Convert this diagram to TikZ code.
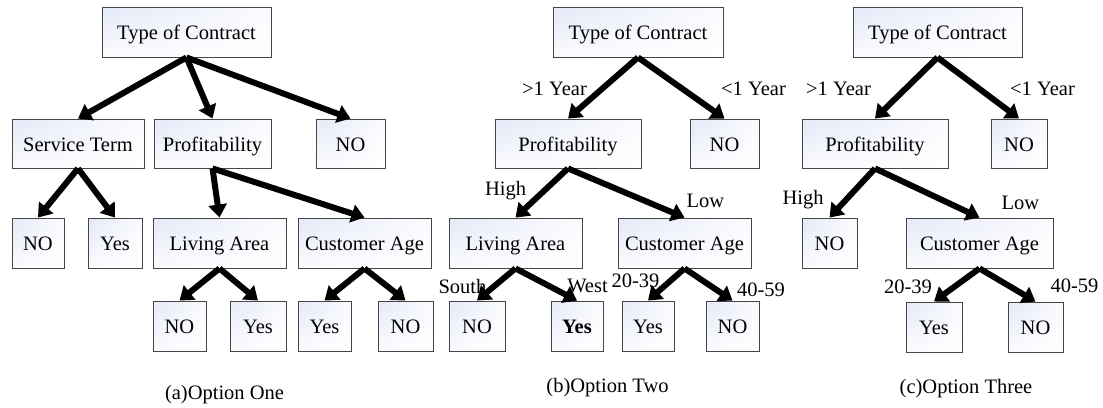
\documentclass[tikz,border=0pt]{standalone}
\usepackage{fontspec}
\setmainfont{Liberation Serif}
\usetikzlibrary{arrows.meta,shadings}
\definecolor{bxul}{RGB}{228,233,247}
\definecolor{bxm}{RGB}{250,251,254}
\definecolor{bxline}{RGB}{70,70,70}
\begin{document}
\begin{tikzpicture}[x=1pt,y=-1pt,
  font=\fontsize{20.5}{24}\selectfont,
  box/.style={draw=bxline, line width=0.9pt, rectangle, inner sep=0pt,
    text height=15pt, text depth=0pt,
    minimum height=50pt, upper left=bxul, upper right=bxm, lower left=bxm, lower right=white},
  lbl/.style={inner sep=0pt, anchor=center},
  arr/.style={line width=6pt, -{Triangle[length=13pt,width=18pt]}}]
\useasboundingbox (0,0) rectangle (1103,407);
% ---------- (a) ----------
\node[box, minimum width=169pt] (a0) at (186.5,32) {Type of Contract};
\node[box, minimum width=132pt, minimum height=49pt] (a1) at (78,143.5) {Service Term};
\node[box, minimum width=117pt, minimum height=49pt] (a2) at (212.5,143.5) {Profitability};
\node[box, minimum width=69pt, minimum height=49pt] (a3) at (350.5,143.5) {NO};
\node[box, minimum width=52pt] (a4) at (38,243) {NO};
\node[box, minimum width=54pt] (a5) at (115,243) {Yes};
\node[box, minimum width=133pt] (a6) at (219.5,243) {Living Area};
\node[box, minimum width=133pt] (a7) at (364.5,243) {Customer Age};
\node[box, minimum width=53pt] (a8) at (179.5,326) {NO};
\node[box, minimum width=56pt] (a9) at (258,326) {Yes};
\node[box, minimum width=53pt] (a10) at (324.5,326) {Yes};
\node[box, minimum width=55pt] (a11) at (405.5,326) {NO};
\draw[arr] (a0.south) -- (a1.north);
\draw[arr] (a0.south) -- (a2.north);
\draw[arr] (a0.south) -- (a3.north);
\draw[arr] (a1.south) -- (a4.north);
\draw[arr] (a1.south) -- (a5.north);
\draw[arr] (a2.south) -- (a6.north);
\draw[arr] (a2.south) -- (a7.north);
\draw[arr] (a6.south) -- (a8.north);
\draw[arr] (a6.south) -- (a9.north);
\draw[arr] (a7.south) -- (a10.north);
\draw[arr] (a7.south) -- (a11.north);
\node[lbl] (capa) at (224.5,395) {(a)Option One};
% ---------- (b) ----------
\node[box, minimum width=170pt] (b0) at (638,32) {Type of Contract};
\node[box, minimum width=146pt, minimum height=49pt] (b1) at (568,143.5) {Profitability};
\node[box, minimum width=69pt, minimum height=49pt] (b2) at (724.5,143.5) {NO};
\node[box, minimum width=133pt] (b3) at (515.5,243) {Living Area};
\node[box, minimum width=133pt] (b4) at (684.5,243) {Customer Age};
\node[box, minimum width=56pt] (b5) at (477,326) {NO};
\node[box, minimum width=52pt] (b6) at (577,326) {\textbf{Yes}};
\node[box, minimum width=52pt] (b7) at (648,326) {Yes};
\node[box, minimum width=53pt] (b8) at (732.5,326) {NO};
\draw[arr] (b0.south) -- (b1.north);
\draw[arr] (b0.south) -- (b2.north);
\draw[arr] (b1.south) -- (b3.north);
\draw[arr] (b1.south) -- (b4.north);
\draw[arr] (b3.south) -- (b5.north);
\draw[arr] (b3.south) -- (b6.north);
\draw[arr] (b4.south) -- (b7.north);
\draw[arr] (b4.south) -- (b8.north);
\node[lbl] (lb1) at (554.5,89) {>1 Year};
\node[lbl] (lb2) at (753.5,89) {<1 Year};
\node[lbl] (lb3) at (505.5,191) {High};
\node[lbl] (lb4) at (705.5,201) {Low};
\node[lbl] (lb5) at (462.5,286) {South};
\node[lbl] (lb6) at (587.5,286) {West};
\node[lbl] (lb7) at (635.5,281) {20-39};
\node[lbl] (lb8) at (761,290) {40-59};
\node[lbl] (capb) at (607.5,388) {(b)Option Two};
% ---------- (c) ----------
\node[box, minimum width=169pt] (c0) at (937.5,32) {Type of Contract};
\node[box, minimum width=146pt, minimum height=49pt] (c1) at (875,143.5) {Profitability};
\node[box, minimum width=56pt, minimum height=49pt] (c2) at (1019,143.5) {NO};
\node[box, minimum width=55pt] (c3) at (829.5,243) {NO};
\node[box, minimum width=147pt] (c4) at (979.5,243) {Customer Age};
\node[box, minimum width=56pt] (c5) at (934,327) {Yes};
\node[box, minimum width=55pt] (c6) at (1035.5,327) {NO};
\draw[arr] (c0.south) -- (c1.north);
\draw[arr] (c0.south) -- (c2.north);
\draw[arr] (c1.south) -- (c3.north);
\draw[arr] (c1.south) -- (c4.north);
\draw[arr] (c4.south) -- (c5.north);
\draw[arr] (c4.south) -- (c6.north);
\node[lbl] (lc1) at (838.5,89) {>1 Year};
\node[lbl] (lc2) at (1042.5,89) {<1 Year};
\node[lbl] (lc3) at (803,200) {High};
\node[lbl] (lc4) at (1020.5,203) {Low};
\node[lbl] (lc5) at (908,287) {20-39};
\node[lbl] (lc6) at (1074.5,286) {40-59};
\node[lbl] (capc) at (966,389) {(c)Option Three};
\end{tikzpicture}
\end{document}
